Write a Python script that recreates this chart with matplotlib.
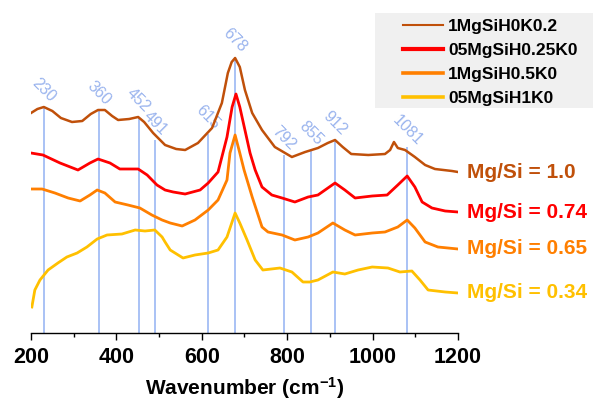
import matplotlib
matplotlib.use("Agg")
import matplotlib.pyplot as plt
from matplotlib.patches import Rectangle
from matplotlib.ticker import MultipleLocator

plt.rcParams['font.family'] = ['Liberation Sans', 'DejaVu Sans']
plt.rcParams['mathtext.fontset'] = 'custom'
plt.rcParams['mathtext.bf'] = 'Liberation Sans:bold'
plt.rcParams['mathtext.rm'] = 'Liberation Sans'
plt.rcParams['mathtext.default'] = 'bf'

# ---- data (wavenumber, offset intensity in arbitrary units) ----
brown_x = [200, 215, 230, 250, 270, 296, 320, 340, 357, 373, 390, 404, 430, 451, 465, 486, 514, 540, 561, 591,
           624, 647, 661, 670, 678, 689, 701, 718, 741, 771, 811, 842, 872, 895, 912, 930, 950, 990, 1029, 1041,
           1050, 1059, 1076, 1099, 1123, 1146, 1186, 1200]
brown_y = [220, 224, 226, 222, 215, 211, 212, 219, 223, 223, 217, 213, 214, 216, 211, 200, 188, 184, 183, 190,
           205, 230, 260, 271, 275, 266, 243, 220, 203, 186, 176, 181, 185, 190, 193, 186, 179, 178, 179, 183,
           191, 185, 183, 176, 168, 164, 162, 161]

red_x = [200, 228, 268, 310, 338, 357, 385, 408, 451, 472, 495, 514, 533, 561, 596, 615, 638, 659, 671, 680,
         689, 701, 713, 725, 741, 764, 788, 818, 849, 872, 912, 935, 959, 999, 1034, 1059, 1081, 1099, 1116,
         1139, 1170, 1200]
red_y = [180, 178, 170, 163, 170, 174, 170, 164, 164, 158, 148, 143, 141, 139, 143, 150, 161, 196, 226, 239,
         226, 203, 180, 163, 146, 138, 135, 131, 136, 138, 150, 143, 135, 137, 138, 148, 157, 146, 131,
         125, 122, 121]

orange_x = [202, 226, 256, 287, 315, 338, 355, 373, 397, 427, 455, 483, 507, 526, 554, 584, 615, 638, 659, 666,
            678, 689, 699, 718, 741, 755, 788, 818, 849, 872, 907, 935, 959, 999, 1029, 1059, 1081, 1099, 1123,
            1153, 1200]
orange_y = [144, 144, 140, 135, 132, 138, 143, 140, 131, 128, 125, 118, 113, 110, 107, 113, 123, 133, 153, 180,
            198, 180, 163, 136, 106, 101, 98, 93, 96, 100, 110, 103, 98, 100, 101, 106, 113, 105, 91,
            86, 84]

yellow_x = [202, 209, 221, 240, 263, 284, 308, 331, 355, 378, 413, 444, 467, 490, 507, 514, 526, 556, 584, 615,
            638, 659, 678, 689, 706, 725, 743, 783, 811, 837, 853, 872, 907, 935, 966, 999, 1036, 1064, 1092,
            1111, 1130, 1170, 1200]
yellow_y = [26, 43, 53, 63, 70, 76, 80, 86, 94, 98, 99, 103, 102, 103, 96, 91, 83, 75, 78, 80,
            83, 96, 120, 110, 93, 73, 63, 65, 61, 51, 51, 53, 61, 59, 63, 66, 65, 61, 62,
            53, 43, 41, 40]

series_names = ['1MgSiH0K0.2', '05MgSiH0.25K0', '1MgSiH0.5K0', '05MgSiH1K0']
ratio_labels = ['Mg/Si = 1.0', 'Mg/Si = 0.74', 'Mg/Si = 0.65', 'Mg/Si = 0.34']
colors = ['#C0500A', '#FF0000', '#FF7F00', '#FFC000']

peak_pos = [230, 360, 452, 491, 615, 678, 792, 855, 912, 1081]
peak_top = [226, 223, 216, 193, 199, 276, 178, 183, 193, 186]

xs = [brown_x, red_x, orange_x, yellow_x]
ys = [brown_y, red_y, orange_y, yellow_y]

# ---- figure ----
fig = plt.figure(figsize=(5.93, 4.01), dpi=100)
W, H = 593, 401
ax = fig.add_axes([31 / W, (H - 333) / H, 427 / W, 333 / H])
ax.set_xlim(200, 1200)
ax.set_ylim(0, 333)

line_blue = '#A9C2F5'
text_blue = '#9AB4EE'
for p, t in zip(peak_pos, peak_top):
    ax.plot([p, p], [0, t], color=line_blue, lw=1.4, zorder=1, solid_capstyle='butt')
    ax.text(p, t + 17, str(p), rotation=-45, ha='center', va='center',
            color=text_blue, fontsize=11.5, zorder=1)

lws = [1.8, 2.0, 2.0, 2.0]
handles = []
for x, y, c, n, lw in zip(xs, ys, colors, series_names, lws):
    h, = ax.plot(x, y, color=c, lw=lw, label=n, zorder=3, solid_joinstyle='round')
    handles.append(h)

for y, c, lab in zip(ys, colors, ratio_labels):
    ax.text(1222, y[-1], lab, color=c, fontsize=15, fontweight='bold',
            ha='left', va='center', clip_on=False)

for s in ['left', 'right', 'top']:
    ax.spines[s].set_visible(False)
ax.spines['bottom'].set_linewidth(1.0)
ax.set_yticks([])
ax.xaxis.set_major_locator(MultipleLocator(200))
ax.xaxis.set_minor_locator(MultipleLocator(100))
ax.tick_params(axis='x', which='major', direction='out', length=5, width=1, pad=5, labelsize=15.5)
ax.tick_params(axis='x', which='minor', direction='out', length=3, width=1)
for lab in ax.get_xticklabels():
    lab.set_fontweight('bold')
ax.set_xlabel('Wavenumber (cm$^{-1}$)', fontsize=15, fontweight='bold', labelpad=5)

# legend background
ax.add_patch(Rectangle((375 / W, 1 - 108 / H), (593 - 375) / W, (108 - 13) / H,
                       transform=fig.transFigure, facecolor='#F0F0F0', edgecolor='none',
                       zorder=4, clip_on=False))
leg = ax.legend(handles=handles, loc='upper left', bbox_to_anchor=(403 / W, 1 - 19 / H),
                bbox_transform=fig.transFigure, frameon=False, borderpad=0, borderaxespad=0,
                handlelength=2.3, handletextpad=0.3, labelspacing=0.5,
                prop={'weight': 'bold', 'size': 12.5})
leg.set_zorder(5)
for lh, w in zip(leg.get_lines(), [1.5, 3.0, 2.6, 2.6]):
    lh.set_linewidth(w)

fig.savefig('out.png', dpi=100)
